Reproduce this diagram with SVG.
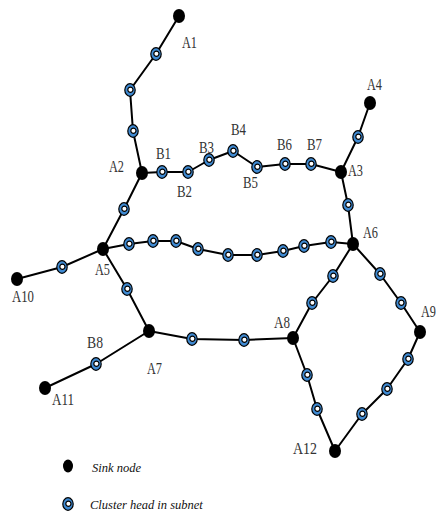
<svg xmlns="http://www.w3.org/2000/svg" xmlns:xlink="http://www.w3.org/1999/xlink" width="441" height="514" viewBox="0 0 441 514">
<style>
.ln{fill:none;stroke:#000;stroke-width:2;stroke-linejoin:round}
.sink{fill:#000}
.lbl{font-family:"Liberation Serif",serif;font-size:16px;fill:#333}
.leg{font-family:"Liberation Serif",serif;font-size:12.5px;font-style:italic;fill:#111}
</style>
<defs>
<g id="ch">
<ellipse cx="0" cy="0" rx="5.2" ry="6.3" fill="#3f8ad2" stroke="#000" stroke-width="1.2"/>
<circle cx="0.4" cy="-0.2" r="2.6" fill="#fff" stroke="#000" stroke-width="1.2"/>
</g>
</defs>
<rect width="441" height="514" fill="#fff"/>
<g id="connectors">
<polyline class="ln" points="179,16 156,54 130,90 133,131 142,173"/>
<polyline class="ln" points="142,173 162,172 188,172 209,160 233,151 257,167 285,164 311,164 341,172"/>
<polyline class="ln" points="341,172 358,137 370,103"/>
<polyline class="ln" points="341,172 348,205 353,244"/>
<polyline class="ln" points="142,173 124,209 103,249"/>
<polyline class="ln" points="103,249 129,244 153,241 176,241 198,249 228,255 257,255 283,251 304,246 331,242 353,244"/>
<polyline class="ln" points="103,249 62,267 17,279"/>
<polyline class="ln" points="103,249 127,289 149,331"/>
<polyline class="ln" points="149,331 96,364 45,388"/>
<polyline class="ln" points="149,331 192,339 244,340 293,338"/>
<polyline class="ln" points="353,244 333,276 312,303 293,338"/>
<polyline class="ln" points="353,244 380,274 401,303 420,332"/>
<polyline class="ln" points="420,332 408,359 387,389 362,414 335,451"/>
<polyline class="ln" points="293,338 307,375 317,409 335,451"/>
</g>
<g id="A1"><ellipse class="sink" cx="179" cy="16" rx="6" ry="7"/><text class="lbl" x="182" y="48" textLength="15" lengthAdjust="spacingAndGlyphs">A1</text></g>
<g id="A2"><ellipse class="sink" cx="142" cy="173" rx="6" ry="7"/><text class="lbl" x="109" y="172" textLength="15" lengthAdjust="spacingAndGlyphs">A2</text></g>
<g id="A3"><ellipse class="sink" cx="341" cy="172" rx="6" ry="7"/><text class="lbl" x="348" y="176" textLength="15" lengthAdjust="spacingAndGlyphs">A3</text></g>
<g id="A4"><ellipse class="sink" cx="370" cy="103" rx="6" ry="7"/><text class="lbl" x="367" y="90" textLength="15" lengthAdjust="spacingAndGlyphs">A4</text></g>
<g id="A5"><ellipse class="sink" cx="103" cy="249" rx="6" ry="7"/><text class="lbl" x="95" y="275" textLength="15" lengthAdjust="spacingAndGlyphs">A5</text></g>
<g id="A6"><ellipse class="sink" cx="353" cy="244" rx="6" ry="7"/><text class="lbl" x="363" y="238" textLength="15" lengthAdjust="spacingAndGlyphs">A6</text></g>
<g id="A7"><ellipse class="sink" cx="149" cy="331" rx="6" ry="7"/><text class="lbl" x="147" y="374" textLength="15" lengthAdjust="spacingAndGlyphs">A7</text></g>
<g id="A8"><ellipse class="sink" cx="293" cy="338" rx="6" ry="7"/><text class="lbl" x="274" y="328" textLength="16" lengthAdjust="spacingAndGlyphs">A8</text></g>
<g id="A9"><ellipse class="sink" cx="420" cy="332" rx="6" ry="7"/><text class="lbl" x="421" y="317" textLength="15" lengthAdjust="spacingAndGlyphs">A9</text></g>
<g id="A10"><ellipse class="sink" cx="17" cy="279" rx="6" ry="7"/><text class="lbl" x="12" y="302" textLength="22" lengthAdjust="spacingAndGlyphs">A10</text></g>
<g id="A11"><ellipse class="sink" cx="45" cy="388" rx="6" ry="7"/><text class="lbl" x="52" y="405" textLength="22" lengthAdjust="spacingAndGlyphs">A11</text></g>
<g id="A12"><ellipse class="sink" cx="335" cy="451" rx="6" ry="7"/><text class="lbl" x="293" y="454" textLength="24" lengthAdjust="spacingAndGlyphs">A12</text></g>
<g id="B1"><use xlink:href="#ch" x="162" y="172"/><text class="lbl" x="156" y="159" textLength="15" lengthAdjust="spacingAndGlyphs">B1</text></g>
<g id="B2"><use xlink:href="#ch" x="188" y="172"/><text class="lbl" x="177" y="197" textLength="15" lengthAdjust="spacingAndGlyphs">B2</text></g>
<g id="B3"><use xlink:href="#ch" x="209" y="160"/><text class="lbl" x="199" y="153" textLength="15" lengthAdjust="spacingAndGlyphs">B3</text></g>
<g id="B4"><use xlink:href="#ch" x="233" y="151"/><text class="lbl" x="231" y="135" textLength="15" lengthAdjust="spacingAndGlyphs">B4</text></g>
<g id="B5"><use xlink:href="#ch" x="257" y="167"/><text class="lbl" x="243" y="188" textLength="15" lengthAdjust="spacingAndGlyphs">B5</text></g>
<g id="B6"><use xlink:href="#ch" x="285" y="164"/><text class="lbl" x="277" y="150" textLength="15" lengthAdjust="spacingAndGlyphs">B6</text></g>
<g id="B7"><use xlink:href="#ch" x="311" y="164"/><text class="lbl" x="307" y="150" textLength="15" lengthAdjust="spacingAndGlyphs">B7</text></g>
<g id="B8"><use xlink:href="#ch" x="96" y="364"/><text class="lbl" x="87" y="348" textLength="16" lengthAdjust="spacingAndGlyphs">B8</text></g>
<g id="cluster-heads">
<use id="c1" xlink:href="#ch" x="156" y="54"/>
<use id="c2" xlink:href="#ch" x="130" y="90"/>
<use id="c3" xlink:href="#ch" x="133" y="131"/>
<use id="c4" xlink:href="#ch" x="358" y="137"/>
<use id="c5" xlink:href="#ch" x="348" y="205"/>
<use id="c6" xlink:href="#ch" x="124" y="209"/>
<use id="c7" xlink:href="#ch" x="129" y="244"/>
<use id="c8" xlink:href="#ch" x="153" y="241"/>
<use id="c9" xlink:href="#ch" x="176" y="241"/>
<use id="c10" xlink:href="#ch" x="198" y="249"/>
<use id="c11" xlink:href="#ch" x="228" y="255"/>
<use id="c12" xlink:href="#ch" x="257" y="255"/>
<use id="c13" xlink:href="#ch" x="283" y="251"/>
<use id="c14" xlink:href="#ch" x="304" y="246"/>
<use id="c15" xlink:href="#ch" x="331" y="242"/>
<use id="c16" xlink:href="#ch" x="62" y="267"/>
<use id="c17" xlink:href="#ch" x="127" y="289"/>
<use id="c18" xlink:href="#ch" x="192" y="339"/>
<use id="c19" xlink:href="#ch" x="244" y="340"/>
<use id="c20" xlink:href="#ch" x="333" y="276"/>
<use id="c21" xlink:href="#ch" x="312" y="303"/>
<use id="c22" xlink:href="#ch" x="380" y="274"/>
<use id="c23" xlink:href="#ch" x="401" y="303"/>
<use id="c24" xlink:href="#ch" x="408" y="359"/>
<use id="c25" xlink:href="#ch" x="387" y="389"/>
<use id="c26" xlink:href="#ch" x="362" y="414"/>
<use id="c27" xlink:href="#ch" x="307" y="375"/>
<use id="c28" xlink:href="#ch" x="317" y="409"/>
</g>
<g id="legend">
<ellipse class="sink" cx="68" cy="466" rx="5" ry="6.5"/>
<text class="leg" x="92" y="472">Sink node</text>
<use xlink:href="#ch" x="68" y="504"/>
<text class="leg" x="90" y="509">Cluster head in subnet</text>
</g>
</svg>
